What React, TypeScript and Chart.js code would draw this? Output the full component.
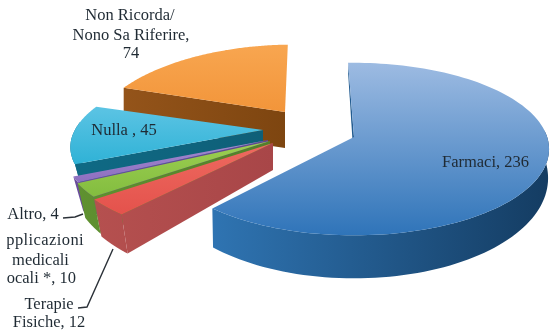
import React, { useEffect, useRef } from "react";
import { Chart, registerables } from "chart.js";

Chart.register(...registerables);

const categories = ["Farmaci", "Terapie Fisiche", "Applicazioni medicali locali *", "Altro", "Nulla", "Non Ricorda/ Nono Sa Riferire"];
const counts = [236, 12, 10, 4, 45, 74];

// Gradient stops for each slice: top face light/dark, side wall start/end.
const topLight = ["#9dbbe2", "#ee6a60", "#9ccf52", "#a58ad0", "#5cc4e4", "#f8a650"];
const topDark = ["#2f74b9", "#e4524c", "#83bd3f", "#8d6fc0", "#2fb2d6", "#f2953a"];
const wallStart = ["#2f74b2", "#b5504f", "#5f9130", "#6a4c9c", "#0f6a85", "#94541a"];
const wallEnd = ["#143c62", "#a84648", "#537f2a", "#5f4590", "#0f5f78", "#7d4510"];

// How each slice is pulled out of the pie and foreshortened.
const explodeX = [78.5, -2.5, -5.5, -7.5, -12.5, 9.5];
const explodeY = [-29.5, -23.5, -25.5, -26.5, -36.5, -54.5];
const widthRatio = [1.16, 1.24, 1.225, 1.21, 1.13, 1.115];
const depthRatio = [0.508, 0.508, 0.5, 0.5, 0.47, 0.506];
const perspective = [0.14, 0.14, 0.14, 0.14, 0.14, 0.25];
const skew = [0, 0, 0, 0, -15, -8];
const wallHeight = [26.7, 27, 27, 27, 27, 36];
const wallGrowth = [0.61, 0.6, 0.6, 0.6, 0.6, 0];
const wallTaper = [0.995, 0.96, 0.96, 0.95, 0.95, 1];

const labelFont = '16.5px "Liberation Serif"';
const labelColor = "#1f2a33";

// Text blocks beside the slices: [text, centre x, baseline y].
const labelLines: [string, number, number][] = [
  ["Non Ricorda/", 130, 20],
  ["Nono Sa Riferire,", 131, 40],
  ["74", 131, 58],
  ["Nulla , 45", 124, 135],
  ["Farmaci, 236", 485.5, 167],
  ["Altro, 4", 33, 219],
  ["Applicazioni", 39, 245],
  ["medicali", 40.5, 265],
  ["locali *, 10", 39, 283],
  ["Terapie", 49, 309],
  ["Fisiche, 12", 49, 327],
];

const leaderLines: [number, number][][] = [
  [[63, 218], [75, 217], [83, 214]],
  [[78, 308], [87, 307], [113, 249]],
];

const pie3d = {
  id: "pie3d",
  beforeDatasetsDraw(chart: any) {
    const ctx: CanvasRenderingContext2D = chart.ctx;
    const arcs = chart.getDatasetMeta(0).data;
    for (let i = arcs.length - 1; i >= 0; i--) {
      const { x, y, startAngle, endAngle, outerRadius } = arcs[i].getProps(
        ["x", "y", "startAngle", "endAngle", "outerRadius"],
        true
      );
      const cx = x + explodeX[i];
      const cy = y + explodeY[i];
      const rx = outerRadius * widthRatio[i];
      const ry = outerRadius * depthRatio[i];
      const project = (u: number, v: number, lowered: boolean): [number, number] => {
        const w = 1 - perspective[i] * v;
        const reach = (rx * u) / w + skew[i] * v;
        const py = cy + (ry * v) / w;
        return lowered
          ? [cx + reach * wallTaper[i], py + wallHeight[i] * (1 + wallGrowth[i] * v)]
          : [cx + reach, py];
      };
      const rim: [number, number][] = [];
      const steps = 120;
      for (let s = 0; s <= steps; s++) {
        const a = startAngle + ((endAngle - startAngle) * s) / steps;
        rim.push([Math.cos(a), Math.sin(a)]);
      }
      const fillPath = (pts: [number, number][], style: CanvasGradient | string) => {
        ctx.beginPath();
        pts.forEach((p, n) => (n ? ctx.lineTo(p[0], p[1]) : ctx.moveTo(p[0], p[1])));
        ctx.closePath();
        ctx.fillStyle = style;
        ctx.fill();
      };

      const topPts = [project(0, 0, false), ...rim.map((p) => project(p[0], p[1], false))];
      const xs = topPts.map((p) => p[0]);
      const ys = topPts.map((p) => p[1]);
      const minX = Math.min(...xs);
      const maxX = Math.max(...xs);

      const wallFill = ctx.createLinearGradient(minX, 0, maxX, 0);
      wallFill.addColorStop(0, wallStart[i]);
      wallFill.addColorStop(1, wallEnd[i]);

      // The leading cut face, then the part of the outer wall that faces the
      // viewer, then the top face over them.
      const first = rim[0];
      fillPath(
        [project(0, 0, false), project(first[0], first[1], false), project(first[0], first[1], true), project(0, 0, true)],
        wallFill
      );
      const frontRim = rim.filter((p) => p[1] > -0.1);
      if (frontRim.length > 1) {
        fillPath(
          [
            ...frontRim.map((p) => project(p[0], p[1], false)),
            ...frontRim.slice().reverse().map((p) => project(p[0], p[1], true)),
          ],
          wallFill
        );
      }

      const topFill = ctx.createLinearGradient(0, Math.min(...ys), 0, Math.max(...ys));
      topFill.addColorStop(0, topLight[i]);
      topFill.addColorStop(1, topDark[i]);
      fillPath(topPts, topFill);
    }
    return false;
  },
  afterDraw(chart: any) {
    const ctx: CanvasRenderingContext2D = chart.ctx;
    ctx.save();
    ctx.strokeStyle = "#2b3138";
    ctx.lineWidth = 1.4;
    leaderLines.forEach((line) => {
      ctx.beginPath();
      line.forEach((p, n) => (n ? ctx.lineTo(p[0], p[1]) : ctx.moveTo(p[0], p[1])));
      ctx.stroke();
    });
    // The left-hand labels run up against a margin at x = 7.
    ctx.beginPath();
    ctx.rect(7, 0, chart.width, chart.height);
    ctx.clip();
    ctx.font = labelFont;
    ctx.fillStyle = labelColor;
    ctx.textAlign = "center";
    ctx.textBaseline = "alphabetic";
    labelLines.forEach(([text, x, y]) => {
      ctx.letterSpacing = text === "Applicazioni" ? "0.4px" : "0px";
      ctx.fillText(text, x, y);
    });
    ctx.restore();
  },
};

export default function App() {
  const canvasRef = useRef<HTMLCanvasElement>(null);

  useEffect(() => {
    const chart = new Chart(canvasRef.current as HTMLCanvasElement, {
      type: "pie",
      data: {
        labels: categories,
        datasets: [{ data: counts, borderWidth: 0, backgroundColor: topDark }],
      },
      options: {
        responsive: false,
        animation: false,
        rotation: -2,
        events: [],
        layout: { padding: 0 },
        plugins: { legend: { display: false }, tooltip: { enabled: false } },
      },
      plugins: [pie3d],
    } as any);
    return () => chart.destroy();
  }, []);

  return (
    <div style={{ position: "absolute", left: 0, top: 0, width: 551, height: 333, background: "#fff" }}>
      <canvas ref={canvasRef} width={551} height={333} style={{ display: "block" }} />
    </div>
  );
}
